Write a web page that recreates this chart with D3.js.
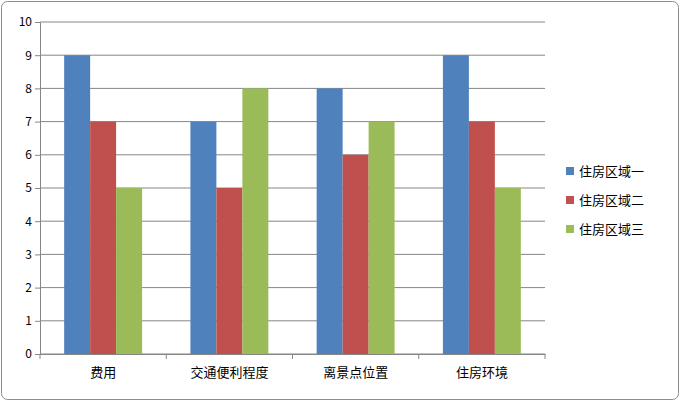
<!DOCTYPE html>
<html><head><meta charset="utf-8">
<script src="https://cdn.jsdelivr.net/npm/d3@7"></script>
<style>body{margin:0;background:#fff}</style></head>
<body><svg id="c" width="680" height="401"></svg>
<script>
const categories=["费用","交通便利程度","离景点位置","住房环境"];
const seriesNames=["住房区域一","住房区域二","住房区域三"];
const s1=[9,7,8,9];
const s2=[7,5,6,7];
const s3=[5,8,7,5];
const yTicks=[0,1,2,3,4,5,6,7,8,9,10];
const colors=["#4F81BD","#C0504D","#9BBB59"];
const series=[s1,s2,s3];
const svg=d3.select("#c");
const font="'Noto Sans CJK SC', sans-serif";
svg.append("rect").attr("x",1.5).attr("y",1.5).attr("width",677).attr("height",398).attr("rx",6).attr("fill","#fff").attr("stroke","#8c8c8c");
const L=40,R=545,T=22,B=354;
const y=d3.scaleLinear().domain([0,10]).range([B,T]);
const x=d3.scaleBand().domain(categories).range([L,R]);
const xi=d3.scaleBand().domain([0,1,2]).range([0,x.bandwidth()]).paddingOuter(0.93).paddingInner(0);
svg.append("g").selectAll("line").data(yTicks).join("line")
 .attr("x1",L).attr("x2",R).attr("y1",d=>y(d)).attr("y2",d=>y(d)).attr("stroke","#868686");
const ya=svg.append("g").attr("transform",`translate(${L},0)`).call(d3.axisLeft(y).tickValues(yTicks).tickSize(5).tickFormat(d3.format("d")));
ya.selectAll("text").attr("font-family",font).attr("font-size",12).attr("fill","#000");
ya.selectAll("line,path").attr("stroke","#868686");
series.forEach((s,i)=>{
 svg.append("g").selectAll("rect").data(s).join("rect")
  .attr("x",(d,j)=>x(categories[j])+xi(i)).attr("width",xi.bandwidth())
  .attr("y",d=>y(d)).attr("height",d=>B-y(d)).attr("fill",colors[i]);
});
const xa=svg.append("g").attr("transform",`translate(0,${B})`).call(d3.axisBottom(x).tickSize(0).tickPadding(14));
xa.selectAll("text").attr("font-family",font).attr("font-size",13).attr("fill","#000");
xa.select("path").attr("stroke","#868686");
xa.selectAll(".tk").data(d3.range(5)).join("line").attr("x1",d=>L+d*x.bandwidth()).attr("x2",d=>L+d*x.bandwidth()).attr("y1",0).attr("y2",5).attr("stroke","#868686");
const lg=svg.append("g");
seriesNames.forEach((n,i)=>{
 const yy=171+i*29;
 lg.append("rect").attr("x",566).attr("y",yy-4).attr("width",8).attr("height",8).attr("fill",colors[i]);
 lg.append("text").attr("x",579).attr("y",yy+5).text(n).attr("font-family",font).attr("font-size",13);
});
</script></body></html>
